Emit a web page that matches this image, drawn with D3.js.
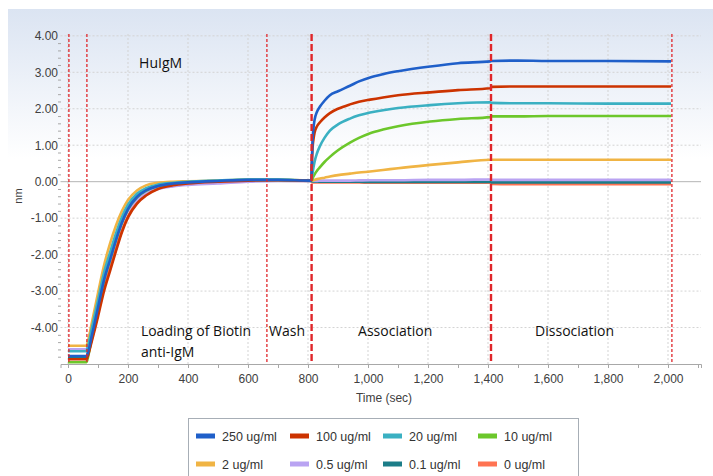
<!DOCTYPE html>
<html>
<head>
<meta charset="utf-8">
<script src="https://cdn.jsdelivr.net/npm/d3@7"></script>
<style>
  body { margin: 0; background: #fff; }
  svg { display: block; }
</style>
</head>
<body>
<div id="chart"></div>
<script>
// time points (sec) shared by all sensor traces
const times = [0, 62, 64, 80, 100, 120, 140, 160, 180, 200, 230, 260, 300, 350, 400, 500, 600, 700,
  811, 813, 815, 818, 822, 830, 840, 855, 873, 900, 940, 970, 1007, 1050, 1100, 1207, 1300, 1408,
  1412, 1500, 1600, 1800, 2010];

const v250 = [-4.78, -4.78, -4.75, -4.2, -3.45, -2.7, -2.15, -1.6, -1.12, -0.75, -0.42, -0.24, -0.12, -0.05, -0.02, 0.02, 0.05, 0.05,
  0.03, 0.6, 1.1, 1.45, 1.7, 1.92, 2.06, 2.22, 2.37, 2.48, 2.63, 2.75, 2.86, 2.95, 3.03, 3.16, 3.25, 3.3,
  3.31, 3.32, 3.31, 3.31, 3.3];
const v100 = [-4.87, -4.87, -4.83, -4.35, -3.7, -3.0, -2.45, -1.9, -1.38, -0.98, -0.6, -0.38, -0.2, -0.1, -0.05, 0.0, 0.03, 0.04,
  0.03, 0.5, 0.9, 1.15, 1.35, 1.52, 1.63, 1.76, 1.88, 2.0, 2.12, 2.19, 2.25, 2.31, 2.37, 2.45, 2.51, 2.56,
  2.6, 2.61, 2.61, 2.61, 2.61];
const v20 = [-4.65, -4.65, -4.6, -4.0, -3.25, -2.5, -1.95, -1.42, -0.97, -0.63, -0.33, -0.18, -0.08, -0.03, 0.0, 0.03, 0.06, 0.06,
  0.03, 0.1, 0.22, 0.38, 0.55, 0.78, 0.98, 1.2, 1.4, 1.57, 1.73, 1.82, 1.9, 1.96, 2.02, 2.1, 2.15, 2.18,
  2.16, 2.15, 2.15, 2.14, 2.14];
const v10 = [-4.95, -4.95, -4.9, -4.25, -3.45, -2.7, -2.15, -1.6, -1.12, -0.76, -0.43, -0.25, -0.12, -0.05, -0.02, 0.02, 0.05, 0.05,
  0.03, 0.04, 0.08, 0.14, 0.2, 0.3, 0.4, 0.54, 0.68, 0.86, 1.07, 1.2, 1.33, 1.43, 1.52, 1.65, 1.72, 1.77,
  1.79, 1.79, 1.8, 1.8, 1.8];
const v2 = [-4.5, -4.5, -4.45, -3.85, -3.05, -2.3, -1.7, -1.2, -0.8, -0.5, -0.24, -0.1, -0.03, 0.0, 0.01, 0.03, 0.05, 0.05,
  0.03, 0.02, 0.03, 0.04, 0.05, 0.07, 0.09, 0.11, 0.14, 0.18, 0.22, 0.25, 0.28, 0.32, 0.37, 0.46, 0.53, 0.6,
  0.6, 0.6, 0.6, 0.6, 0.6];
const v05 = [-4.6, -4.6, -4.55, -4.0, -3.3, -2.6, -2.05, -1.55, -1.12, -0.8, -0.5, -0.32, -0.2, -0.13, -0.09, -0.05, 0.0, 0.02,
  0.02, 0.02, 0.02, 0.02, 0.02, 0.02, 0.03, 0.03, 0.03, 0.03, 0.03, 0.035, 0.04, 0.04, 0.04, 0.05, 0.05, 0.06,
  0.05, 0.05, 0.05, 0.05, 0.05];
const v01 = [-4.8, -4.8, -4.76, -4.15, -3.4, -2.65, -2.1, -1.56, -1.08, -0.72, -0.4, -0.22, -0.11, -0.05, -0.02, 0.01, 0.04, 0.04,
  0.02, 0.0, 0.0, 0.0, 0.0, 0.0, 0.0, 0.0, 0.0, 0.0, 0.0, 0.0, -0.01, -0.01, -0.01, -0.01, -0.01, -0.01,
  -0.02, -0.02, -0.02, -0.02, -0.02];
const v0 = [-4.85, -4.85, -4.81, -4.3, -3.62, -2.92, -2.38, -1.84, -1.33, -0.94, -0.57, -0.36, -0.19, -0.1, -0.05, 0.0, 0.03, 0.03,
  0.02, -0.02, -0.02, -0.02, -0.02, -0.02, -0.02, -0.02, -0.02, -0.02, -0.02, -0.02, -0.03, -0.03, -0.03, -0.03, -0.03, -0.03,
  -0.06, -0.07, -0.07, -0.07, -0.07];

const seriesNames = ['250 ug/ml', '100 ug/ml', '20 ug/ml', '10 ug/ml', '2 ug/ml', '0.5 ug/ml', '0.1 ug/ml', '0 ug/ml'];
const seriesValues = [v250, v100, v20, v10, v2, v05, v01, v0];
const seriesColors = ['#1f5fc9', '#cc3300', '#3ab0c2', '#6cc72b', '#f0b444', '#b9a3f2', '#1c7d88', '#ff7352'];

// step boundaries (sec) and which are the heavy ones
const stepTimes = [3, 63, 663, 812, 1410, 2013];
const stepHeavy = [false, false, false, true, true, false];

// labels: left edge time, baseline value
const stepLabels = [
  { t: 243, v: -4.23, lines: ['Loading of Biotin', 'anti-IgM'] },
  { t: 670, v: -4.23, lines: ['Wash'] },
  { t: 967, v: -4.23, lines: ['Association'] },
  { t: 1557, v: -4.23, lines: ['Dissociation'] },
  { t: 237, v: 3.13, lines: ['HuIgM'] }
];

const xTicks = d3.range(0, 2001, 200);
const yTicks = d3.range(-4, 5, 1);

const width = 713, height = 476;

let svg = d3.select('#chart').append('svg')
  .attr('width', width)
  .attr('height', height);

let defs = svg.append('defs');
let grad = defs.append('linearGradient')
  .attr('id', 'bg')
  .attr('x1', 0).attr('y1', 0).attr('x2', 0).attr('y2', 1);
grad.append('stop').attr('offset', '0%').attr('stop-color', '#dbe4f2');
grad.append('stop').attr('offset', '100%').attr('stop-color', '#ffffff');

svg.append('rect')
  .attr('x', 8).attr('y', 9)
  .attr('width', width - 8).attr('height', 150)
  .attr('fill', 'url(#bg)');

let x = d3.scaleLinear().domain([-25, 2110]).range([60.5, 701]);
let y = d3.scaleLinear().domain([-5, 4.05]).range([364, 34]);

let g = svg.append('g');

// grid
g.selectAll('.vgrid')
  .data(xTicks)
  .enter()
  .append('line')
  .attr('x1', d => x(d)).attr('x2', d => x(d))
  .attr('y1', y(4.05)).attr('y2', y(-5))
  .attr('stroke', '#d3d3d3')
  .attr('stroke-dasharray', '2,2');

g.selectAll('.hgrid')
  .data(yTicks.filter(d => d !== 0))
  .enter()
  .append('line')
  .attr('x1', x(-25)).attr('x2', x(2110))
  .attr('y1', d => y(d)).attr('y2', d => y(d))
  .attr('stroke', '#d3d3d3')
  .attr('stroke-dasharray', '2,2');

g.append('line')
  .attr('x1', x(-25)).attr('x2', x(2110))
  .attr('y1', y(0)).attr('y2', y(0))
  .attr('stroke', '#b4b4b4');

// axes
svg.append('g')
  .attr('transform', `translate(0,${y(-5)})`)
  .call(d3.axisBottom(x).tickValues(xTicks).tickSize(4).tickPadding(6).tickFormat(d3.format(',')));
svg.append('g')
  .attr('transform', `translate(0,${y(-5)})`)
  .call(d3.axisBottom(x).tickValues(d3.range(100, 2101, 200)).tickSize(4).tickFormat(''))
  .call(a => a.select('.domain').remove());

let yAxis = svg.append('g')
  .attr('transform', `translate(62,0)`)
  .call(d3.axisLeft(y).tickValues(yTicks).tickSize(0).tickPadding(4).tickFormat(d => d.toFixed(2)));
yAxis.select('.domain').remove();
svg.append('g')
  .attr('transform', `translate(61,0)`)
  .call(d3.axisLeft(y).tickValues(d3.range(-4.8, 4.01, 0.2).filter(d => Math.abs(d - Math.round(d)) > 0.01)).tickSize(3).tickFormat(''))
  .call(a => a.select('.domain').remove());

svg.selectAll('.tick line').attr('stroke', '#a8a8a8');
svg.selectAll('.domain').attr('stroke', '#a8a8a8');
svg.selectAll('.tick text')
  .attr('fill', '#404040')
  .style('font-family', '"Liberation Sans", Arial, sans-serif')
  .style('font-size', '12px');

svg.append('text')
  .attr('x', 384).attr('y', 402)
  .attr('text-anchor', 'middle')
  .attr('fill', '#404040')
  .style('font-family', '"Liberation Sans", Arial, sans-serif')
  .style('font-size', '12px')
  .text('Time (sec)');

svg.append('text')
  .attr('transform', 'translate(22,196) rotate(-90)')
  .attr('text-anchor', 'middle')
  .attr('fill', '#404040')
  .style('font-family', '"Liberation Sans", Arial, sans-serif')
  .style('font-size', '11px')
  .text('nm');

// traces
let line = d3.line()
  .x(d => x(d[0]))
  .y(d => y(d[1]))
  .curve(d3.curveMonotoneX);

let order = [7, 6, 5, 4, 3, 2, 1, 0];
g.selectAll('.trace')
  .data(order)
  .enter()
  .append('path')
  .attr('d', i => line(times.map((t, k) => [t, seriesValues[i][k]])))
  .attr('fill', 'none')
  .attr('stroke', i => seriesColors[i])
  .attr('stroke-width', 2.6)
  .attr('stroke-linejoin', 'round');

// step markers
g.selectAll('.step')
  .data(stepTimes)
  .enter()
  .append('line')
  .attr('x1', d => x(d)).attr('x2', d => x(d))
  .attr('y1', y(4.05)).attr('y2', y(-5))
  .attr('stroke', '#e0262a')
  .attr('stroke-width', (d, i) => stepHeavy[i] ? 2.4 : 1.3)
  .attr('stroke-dasharray', (d, i) => stepHeavy[i] ? '7,3' : '3,2');

// step labels
stepLabels.forEach(s => {
  let t = svg.append('text')
    .attr('x', x(s.t)).attr('y', y(s.v))
    .attr('text-anchor', 'start')
    .attr('fill', '#111')
    .style('font-family', '"Open Sans", sans-serif')
    .style('font-size', '14px');
  s.lines.forEach((l, i) => {
    t.append('tspan')
      .attr('x', x(s.t))
      .attr('dy', i === 0 ? 0 : 21)
      .text(l);
  });
});

// legend
let legend = svg.append('g');
legend.append('rect')
  .attr('x', 188.5).attr('y', 418.5)
  .attr('width', 390).attr('height', 70)
  .attr('fill', '#fff')
  .attr('stroke', '#a7aeb6');

let colX = [196, 290, 383, 478];
let rowY = [436, 464];
let items = legend.selectAll('.item')
  .data(seriesNames)
  .enter()
  .append('g')
  .attr('transform', (d, i) => `translate(${colX[i % 4]},${rowY[Math.floor(i / 4)]})`);
items.append('rect')
  .attr('x', 0).attr('y', -2.5)
  .attr('width', 19).attr('height', 5)
  .attr('fill', (d, i) => seriesColors[i]);
items.append('text')
  .attr('x', 26).attr('y', 4.5)
  .attr('fill', '#333')
  .style('font-family', '"Liberation Sans", Arial, sans-serif')
  .style('font-size', '12.5px')
  .text(d => d);
</script>
</body>
</html>
